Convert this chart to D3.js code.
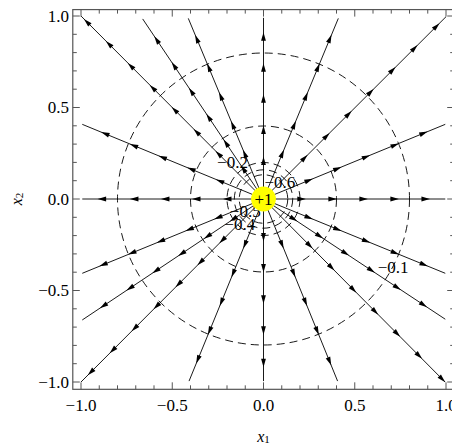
<!DOCTYPE html>
<html><head><meta charset="utf-8">
<script src="https://cdn.jsdelivr.net/npm/d3@7"></script>
<style>body{margin:0;background:#fff}svg{display:block}text{font-family:"Liberation Serif","Times New Roman",serif}</style>
</head><body><div id="chart"></div>
<script>
// Field line end points (x1, x2)
const lineEnds = [
  [0.996,0.0],[0.996,0.408],[1.0,0.996],[0.41,0.987],[0.0,0.99],[-0.412,0.987],[-0.662,0.984],
  [-1.0,1.0],[-0.993,0.408],[-0.993,0.0],[-0.993,-0.406],[-0.993,-0.661],[-1.0,-1.0],
  [-0.408,-0.995],[0.0,-0.995],[0.406,-0.995],[0.995,-1.0],[0.996,-0.657],[0.996,-0.406]
];
// distances from the charge at which arrowheads sit, per line
const arrowRadii = [
  [0.21,0.38,0.55,0.72,0.89],
  [0.27,0.44,0.61,0.78,0.95],
  [0.32,0.49,0.66,0.83,1.0,1.17,1.34],
  [0.27,0.44,0.61,0.78,0.95],
  [0.21,0.38,0.55,0.72,0.89],
  [0.27,0.44,0.61,0.78,0.95],
  [0.2,0.37,0.54,0.71,0.88,1.05],
  [0.35,0.52,0.69,0.86,1.03,1.2,1.37],
  [0.26,0.43,0.6,0.77,0.94],
  [0.2,0.37,0.54,0.71,0.887],
  [0.27,0.44,0.61,0.78,0.95],
  [0.2,0.37,0.54,0.71,0.88,1.055],
  [0.32,0.49,0.66,0.83,1.0,1.17,1.34],
  [0.27,0.44,0.61,0.78,0.95],
  [0.21,0.38,0.55,0.72,0.898],
  [0.27,0.44,0.61,0.78,0.96],
  [0.36,0.53,0.70,0.87,1.04,1.21,1.39],
  [0.2,0.37,0.54,0.71,0.88,1.052],
  [0.27,0.44,0.61,0.78,0.951]
];
// equipotential circles
const contourRadii = [0.8, 0.4, 0.2, 0.16, 0.133];
const contourLabels = [
  {text:"\u22120.1", x:0.71, y:-0.377},
  {text:"\u22120.2", x:-0.17, y:0.2},
  {text:"\u22120.6", x:0.09, y:0.09},
  {text:"\u22120.5", x:-0.1, y:-0.07},
  {text:"\u22120.4", x:-0.13, y:-0.14}
];
const chargeLabel = "+1";
const chargeRadius = 0.068;
const tickLabels = ["\u22121.0","\u22120.5","0.0","0.5","1.0"];
const tickValues = [-1,-0.5,0,0.5,1];

const W=452,H=445;
const svg=d3.select("#chart").append("svg").attr("width",W).attr("height",H);
const x=d3.scaleLinear().domain([-1,1]).range([81,446]);
const y=d3.scaleLinear().domain([-1,1]).range([382,16]);
const fx0=x(-1.045), fx1=x(1.045), fy0=y(1.035), fy1=y(-1.04);

const plot=svg.append("g");
svg.append("clipPath").attr("id","clp").append("rect")
  .attr("x",fx0).attr("y",fy0).attr("width",fx1-fx0).attr("height",fy1-fy0);
const g=plot.append("g").attr("clip-path","url(#clp)");

// contours
g.selectAll("circle.eq").data(contourRadii).join("circle").attr("class","eq")
  .attr("cx",x(0)).attr("cy",y(0)).attr("r",d=>x(d)-x(0))
  .attr("fill","none").attr("stroke","#000").attr("stroke-width",0.9).attr("stroke-dasharray","8,5");

// field lines
g.selectAll("line.fl").data(lineEnds).join("line").attr("class","fl")
  .attr("x1",x(0)).attr("y1",y(0)).attr("x2",d=>x(d[0])).attr("y2",d=>y(d[1]))
  .attr("stroke","#000").attr("stroke-width",0.9);

// arrowheads
lineEnds.forEach((e,i)=>{
  const ang=Math.atan2(e[1],e[0]);
  arrowRadii[i].forEach(r=>{
    const px=x(r*Math.cos(ang)), py=y(r*Math.sin(ang));
    const deg=-ang*180/Math.PI;
    g.append("path").attr("d","M4,0 L-4.5,-2.4 L-4.5,2.4 Z")
      .attr("transform",`translate(${px},${py}) rotate(${deg})`).attr("fill","#000");
  });
});

// labels for contours
g.selectAll("text.cl").data(contourLabels).join("text").attr("class","cl")
  .attr("x",d=>x(d.x)).attr("y",d=>y(d.y)).attr("text-anchor","middle").attr("dominant-baseline","central")
  .attr("font-size",17).text(d=>d.text);

// charge
g.append("circle").attr("cx",x(0)).attr("cy",y(0)).attr("r",x(chargeRadius)-x(0)).attr("fill","#ffff00");
g.append("text").attr("x",x(0)).attr("y",y(0)).attr("text-anchor","middle").attr("dominant-baseline","central")
  .attr("font-size",17).text(chargeLabel);

// frame
svg.append("rect").attr("x",fx0).attr("y",fy0).attr("width",fx1-fx0).attr("height",fy1-fy0)
  .attr("fill","none").attr("stroke","#555").attr("stroke-width",1.2);

// ticks
const minor=d3.range(-10,11).map(k=>k/10);
const axes=svg.append("g").attr("stroke","#555").attr("stroke-width",1);
minor.forEach(v=>{
  const major=Math.abs(v*2-Math.round(v*2))<1e-9;
  const L=major?7:4;
  axes.append("line").attr("x1",x(v)).attr("x2",x(v)).attr("y1",fy1).attr("y2",fy1-L);
  axes.append("line").attr("x1",x(v)).attr("x2",x(v)).attr("y1",fy0).attr("y2",fy0+L);
  axes.append("line").attr("y1",y(v)).attr("y2",y(v)).attr("x1",fx0).attr("x2",fx0+L);
  axes.append("line").attr("y1",y(v)).attr("y2",y(v)).attr("x1",fx1).attr("x2",fx1-L);
});
tickValues.forEach((v,i)=>{
  svg.append("text").attr("x",x(v)).attr("y",405).attr("text-anchor","middle").attr("dominant-baseline","central")
    .attr("font-size",17).text(tickLabels[i]);
  svg.append("text").attr("x",69).attr("y",y(v)).attr("text-anchor","end").attr("dominant-baseline","central")
    .attr("font-size",17).text(tickLabels[i]);
});
// axis titles
const t1=svg.append("text").attr("x",x(0)).attr("y",436).attr("text-anchor","middle").attr("dominant-baseline","central")
  .attr("font-size",16).attr("font-style","italic");
t1.append("tspan").text("x");
t1.append("tspan").attr("font-size",11).attr("font-style","normal").attr("dy",3).text("1");
const t2=svg.append("text").attr("transform",`translate(16,${y(0)}) rotate(-90)`).attr("text-anchor","middle").attr("dominant-baseline","central")
  .attr("font-size",16).attr("font-style","italic");
t2.append("tspan").text("x");
t2.append("tspan").attr("font-size",11).attr("font-style","normal").attr("dy",3).text("2");
</script></body></html>
